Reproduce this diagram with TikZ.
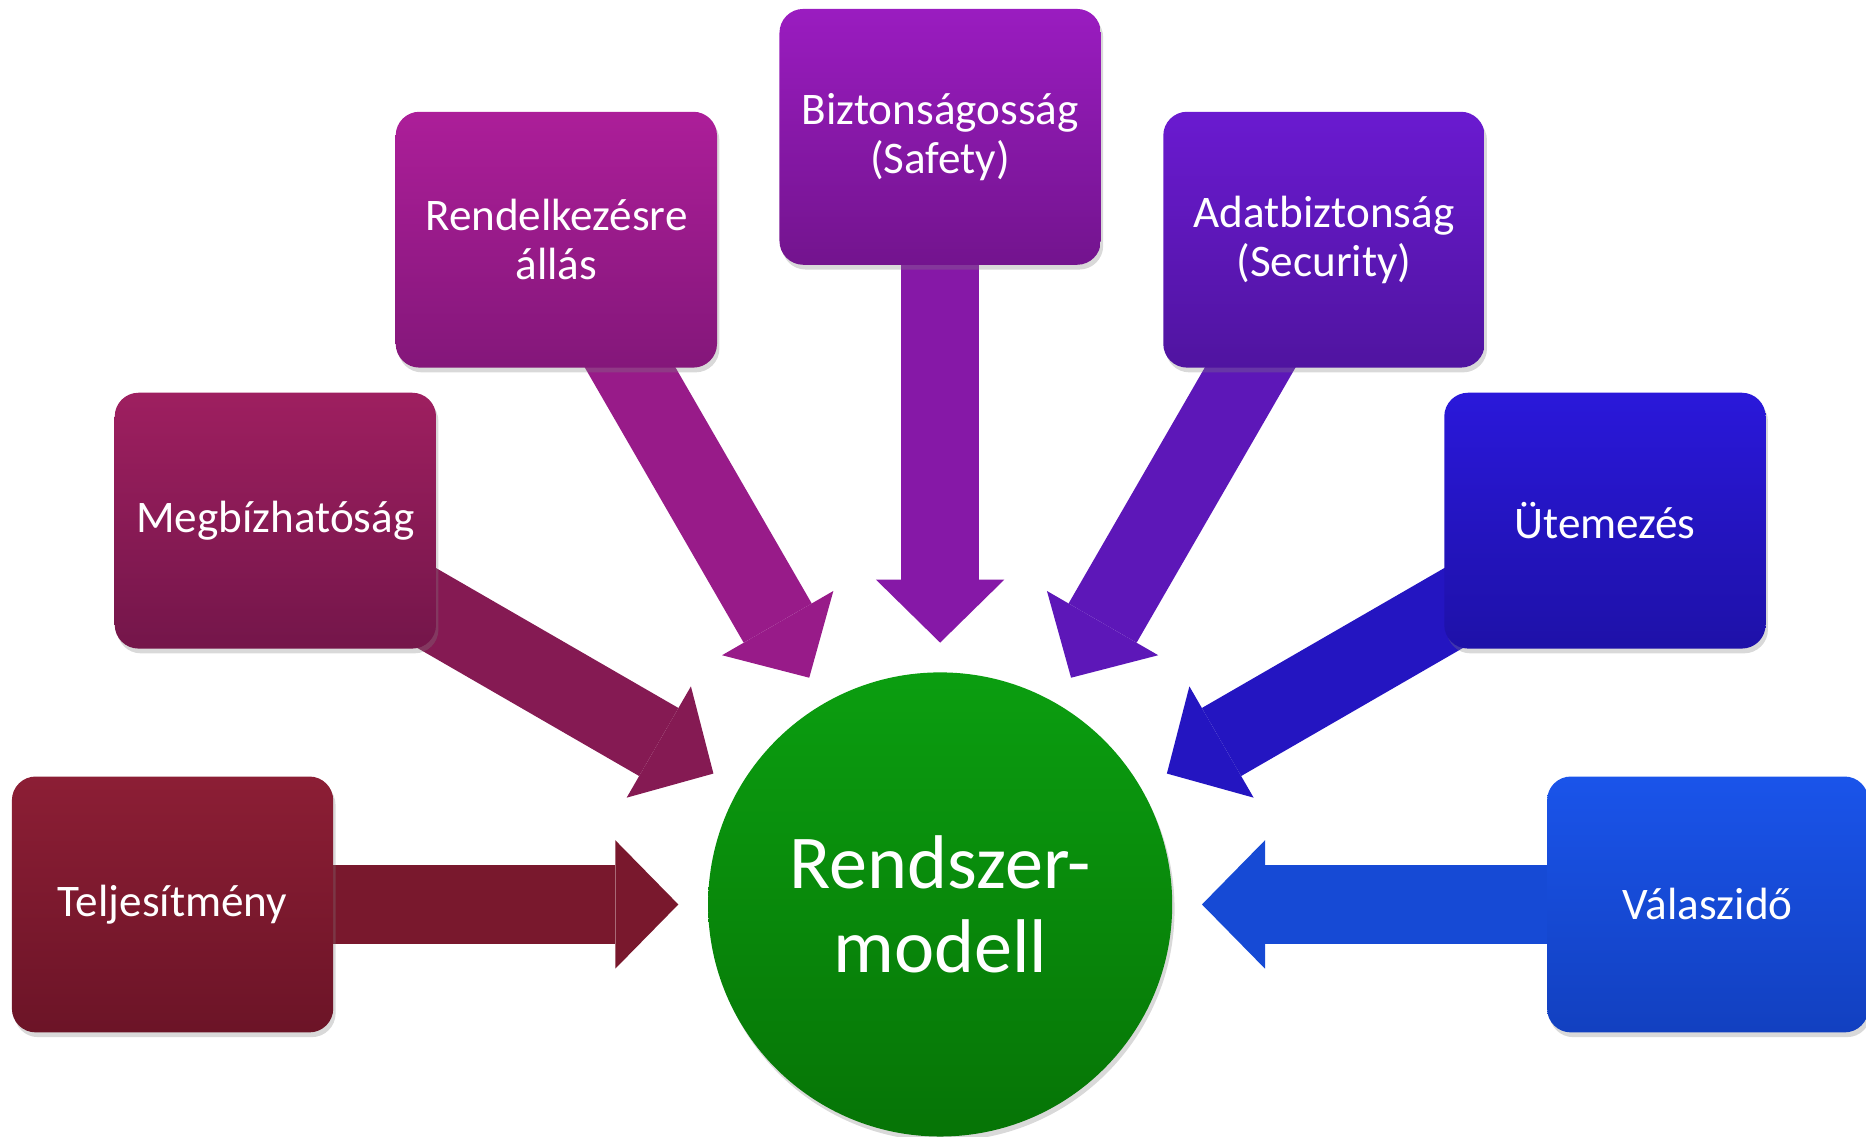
\documentclass[tikz,border=0pt]{standalone}
\usepackage{fontspec}
\setmainfont{Carlito}
\usetikzlibrary{arrows.meta,backgrounds,shadows}

\definecolor{teljtop}{HTML}{8C1E35}
\definecolor{teljbot}{HTML}{6C1427}
\definecolor{megbtop}{HTML}{9E1F60}
\definecolor{megbbot}{HTML}{74164A}
\definecolor{rendtop}{HTML}{AC1E99}
\definecolor{rendbot}{HTML}{84177A}
\definecolor{bizttop}{HTML}{9A1CC0}
\definecolor{biztbot}{HTML}{73148E}
\definecolor{adattop}{HTML}{6A1AD0}
\definecolor{adatbot}{HTML}{5014A0}
\definecolor{utemtop}{HTML}{2A18DA}
\definecolor{utembot}{HTML}{1E11A8}
\definecolor{valatop}{HTML}{1A54EA}
\definecolor{valabot}{HTML}{1240C0}
\definecolor{modtop}{HTML}{0B9E10}
\definecolor{modbot}{HTML}{067406}

\begin{document}
\begin{tikzpicture}[
  box/.style={rounded corners=0.2cm, minimum width=2.7cm, minimum height=2.15cm,
    inner sep=0pt, outer sep=0pt, text=white, align=center,
    font=\fontsize{10.8}{11.7}\selectfont,
    drop shadow={shadow xshift=0.02cm, shadow yshift=-0.04cm, opacity=0.3}},
  bigarrow/.style={line width=0.66cm,
    -{Triangle[width=1.08cm, length=0.53cm, line width=0pt]}, shorten >=0.25cm}
]
\useasboundingbox (0,0) rectangle (15.68,-9.55);

% centre
\node[circle, minimum size=3.9cm, inner sep=0pt, outer sep=0pt,
  top color=modtop, bottom color=modbot, text=white, align=center,
  font=\fontsize{18.2}{20.2}\selectfont,
  drop shadow={shadow xshift=0.02cm, shadow yshift=-0.04cm, opacity=0.3}]
  (model) at (7.90,-7.60) {Rendszer-\\modell};

% boxes, 30 degrees apart
\node[box, top color=teljtop, bottom color=teljbot] (telj) at (1.45,-7.60) {Teljesítmény};
\node[box, top color=megbtop, bottom color=megbbot] (megb) at (2.314,-4.375) {Megbízhatóság};
\node[box, top color=rendtop, bottom color=rendbot] (rend) at (4.675,-2.014) {Rendelkezésre\\állás};
\node[box, top color=bizttop, bottom color=biztbot] (bizt) at (7.90,-1.15) {Biztonságosság\\(Safety)};
\node[box, top color=adattop, bottom color=adatbot] (adat) at (11.125,-2.014) {Adatbiztonság\\(Security)};
\node[box, top color=utemtop, bottom color=utembot] (utem) at (13.486,-4.375) {Ütemezés};
\node[box, top color=valatop, bottom color=valabot] (vala) at (14.35,-7.60) {Válaszidő};

% arrows behind the boxes
\begin{scope}[on background layer]
\path[draw,bigarrow,color=teljbot!60!teljtop] (telj.center) -- (model);
\path[draw,bigarrow,color=megbbot!60!megbtop] (megb.center) -- (model);
\path[draw,bigarrow,color=rendbot!50!rendtop] (rend.center) -- (model);
\path[draw,bigarrow,color=biztbot!50!bizttop] (bizt.center) -- (model);
\path[draw,bigarrow,color=adatbot!50!adattop] (adat.center) -- (model);
\path[draw,bigarrow,color=utembot!50!utemtop] (utem.center) -- (model);
\path[draw,bigarrow,color=valabot!50!valatop] (vala.center) -- (model);
\end{scope}
\end{tikzpicture}
\end{document}
